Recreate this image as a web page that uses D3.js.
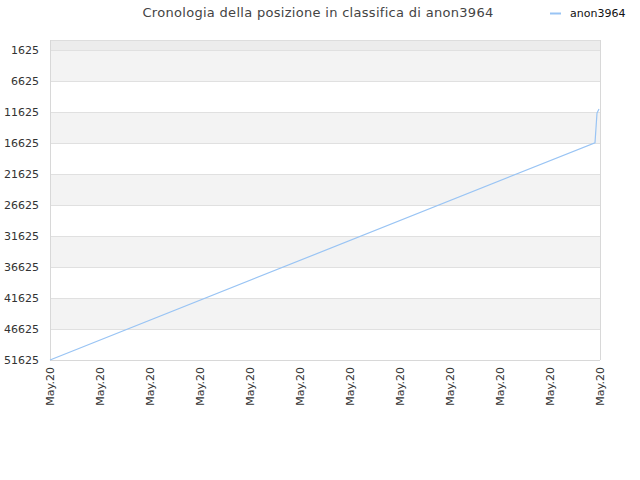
<!DOCTYPE html>
<html><head><meta charset="utf-8">
<script src="https://cdn.jsdelivr.net/npm/d3@7"></script>
<style>body{margin:0;background:#fff;} svg{display:block;font-family:"DejaVu Sans",sans-serif;}</style>
</head><body>
<svg id="c" width="640" height="480"></svg>
<script>
const title = "Cronologia della posizione in classifica di anon3964";
const seriesName = "anon3964";
const pointIndex = [0, 10.9, 10.94, 10.98];
const ranks = [51625, 16580, 11790, 11140];
const tickIndex = [0,1,2,3,4,5,6,7,8,9,10,11];
const tickLabels = ["May.20","May.20","May.20","May.20","May.20","May.20","May.20","May.20","May.20","May.20","May.20","May.20"];
const yTicks = [1625,6625,11625,16625,21625,26625,31625,36625,41625,46625,51625];

const svg = d3.select("#c");
const L=50,R=600,T=40,B=360;
const x = d3.scaleLinear().domain([0,11]).range([L,R]);
const y = d3.scaleLinear().domain([1,51625]).range([T,B]);

// bands
const bounds=[1].concat(yTicks);
for(let i=0;i<bounds.length-1;i++){
  let fill = i===0 ? "#ececec" : (i%2===1 ? "#f3f3f3" : "#ffffff");
  svg.append("rect").attr("x",L).attr("width",R-L)
    .attr("y",y(bounds[i])).attr("height",y(bounds[i+1])-y(bounds[i])).attr("fill",fill);
}
// gridlines
svg.selectAll("line.g").data(yTicks).enter().append("line")
  .attr("x1",L).attr("x2",R).attr("y1",d=>Math.round(y(d))+0.5).attr("y2",d=>Math.round(y(d))+0.5)
  .attr("stroke","#e0e0e0");
svg.append("line").attr("x1",L).attr("x2",R).attr("y1",T+0.5).attr("y2",T+0.5).attr("stroke","#dddddd");
// axes borders
svg.append("line").attr("x1",L+0.5).attr("x2",L+0.5).attr("y1",T).attr("y2",B).attr("stroke","#d8d8d8");
svg.append("line").attr("x1",R+0.5).attr("x2",R+0.5).attr("y1",T).attr("y2",B).attr("stroke","#d8d8d8");
svg.append("line").attr("x1",L).attr("x2",R).attr("y1",B+0.5).attr("y2",B+0.5).attr("stroke","#d8d8d8");

// y labels
svg.selectAll("text.y").data(yTicks).enter().append("text")
  .attr("x",39).attr("y",d=>y(d)+4).attr("text-anchor","end")
  .attr("font-size",11).attr("fill","#333").text(d=>d);
// x labels
svg.selectAll("text.x").data(tickIndex).enter().append("text")
  .attr("transform",d=>`translate(${x(d)+4},${B+7}) rotate(-90)`)
  .attr("text-anchor","end").attr("font-size",11).attr("fill","#333")
  .text((d,i)=>tickLabels[i]);

// line
const pts = pointIndex.map((d,i)=>[d,ranks[i]]);
svg.append("path").datum(pts)
  .attr("d",d3.line().x(d=>x(d[0])).y(d=>y(d[1])))
  .attr("fill","none").attr("stroke","#99c4f4").attr("stroke-width",1.2);

// title
svg.append("text").attr("x",318).attr("y",17).attr("text-anchor","middle")
  .attr("font-size",13).attr("fill","#444").attr("letter-spacing",0.3).text(title);
// legend
svg.append("line").attr("x1",550).attr("x2",561).attr("y1",13.5).attr("y2",13.5)
  .attr("stroke","#99c4f4").attr("stroke-width",2);
svg.append("text").attr("x",570).attr("y",17).attr("font-size",11).attr("fill","#111").text(seriesName);
</script>
</body></html>
